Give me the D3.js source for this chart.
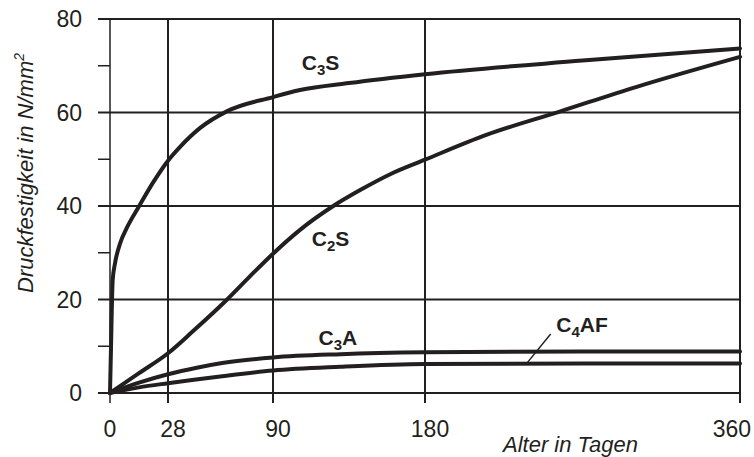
<!DOCTYPE html>
<html>
<head>
<meta charset="utf-8">
<script src="https://cdn.jsdelivr.net/npm/d3@7"></script>
<style>
    body { margin: 0; background: #fff; }
    svg { display: block; }
    text { font-family: "Liberation Sans", Arial, sans-serif; fill: #231f20; }
</style>
</head>
<body>
<div id="chart"></div>
<script>
// Tick-Positionen (Tage) und Festigkeitswerte
const xTicks = [0, 28, 90, 180, 360];
const yTicks = [0, 20, 40, 60, 80];
const yMinorTicks = [10, 30, 50, 70];

// Druckfestigkeit in N/mm² über Alter in Tagen
const c3s = [[0, 0], [0.5, 10], [1.0, 20.6], [1.3, 24.2], [2.4, 27.7], [4.8, 31.9], [8.1, 35.3], [14.1, 40],
    [20.9, 45.1], [28, 49.7], [35, 52.6], [47, 56.7], [63, 60.3], [90, 63.3], [106, 64.8], [135, 66.3],
    [180, 68.2], [270, 71.1], [360, 73.7]];
const c2s = [[0, 0], [14, 4.25], [28, 8.5], [43, 13.3], [62.6, 19.9], [76.5, 25.0], [90, 29.8], [106, 34.9],
    [125.7, 40.0], [141.6, 43.4], [160, 46.9], [180, 49.9], [215, 55.2], [257, 60.2], [301, 65.5], [360, 71.9]];
const c3a = [[0, 0], [14, 2.2], [28, 4.0], [45, 5.4], [60, 6.4], [90, 7.6], [130, 8.3], [180, 8.7],
    [270, 8.9], [360, 8.9]];
const c4af = [[0, 0], [14, 1.2], [28, 2.1], [60, 3.6], [90, 4.8], [130, 5.6], [180, 6.2], [270, 6.3],
    [360, 6.3]];

// Beschriftungen: [Haupttext, Index, Rest, Tag, Wert]
const labels = [
    ["C", "3", "S", 107, 69.1],
    ["C", "2", "S", 113, 31.4],
    ["C", "3", "A", 117, 10.3],
    ["C", "4", "AF", 255, 13.1]
];
// Hinweislinie C4AF: [Tag, Wert] -> [Tag, Wert]
const leader = [[251.8, 12.6], [238.7, 6.6]];

const width = 754, height = 457;
const margin = {left: 110, right: 740, top: 19, bottom: 393};

const svg = d3.select("#chart")
    .append("svg")
    .attr("width", width)
    .attr("height", height);

// die Tagesachse ist im Original nicht gleichmäßig geteilt
const xx = d3.scaleLinear()
    .domain(xTicks)
    .range([margin.left, 168, 273, 425, margin.right]);

const yy = d3.scaleLinear()
    .domain([0, 80])
    .range([margin.bottom, margin.top]);

const ink = "#231f20";

// horizontale Gitterlinien (inkl. Tick links)
svg.append("g")
    .selectAll("line")
    .data(yTicks)
    .join("line")
    .attr("x1", margin.left - 12)
    .attr("x2", margin.right)
    .attr("y1", d => yy(d))
    .attr("y2", d => yy(d))
    .attr("stroke", ink)
    .attr("stroke-width", 2);

// Zwischenticks
svg.append("g")
    .selectAll("line")
    .data(yMinorTicks)
    .join("line")
    .attr("x1", margin.left - 12)
    .attr("x2", margin.left)
    .attr("y1", d => yy(d))
    .attr("y2", d => yy(d))
    .attr("stroke", ink)
    .attr("stroke-width", 1.5);

// vertikale Gitterlinien
svg.append("g")
    .selectAll("line")
    .data(xTicks)
    .join("line")
    .attr("x1", d => xx(d))
    .attr("x2", d => xx(d))
    .attr("y1", yy(80))
    .attr("y2", margin.bottom + 10)
    .attr("stroke", ink)
    .attr("stroke-width", d => d === 0 ? 1.5 : 2);

// Tick-Beschriftung
svg.append("g")
    .selectAll("text")
    .data(yTicks)
    .join("text")
    .attr("x", margin.left - 28)
    .attr("y", d => yy(d))
    .attr("dy", "0.36em")
    .style("font-size", "23px")
    .style("text-anchor", "end")
    .text(d => d);

svg.append("g")
    .selectAll("text")
    .data(xTicks)
    .join("text")
    .attr("x", d => d === 360 ? xx(d) + 11 : xx(d) + (d === 0 ? 0 : 5))
    .attr("y", margin.bottom + 44)
    .style("font-size", "23px")
    .style("text-anchor", d => d === 360 ? "end" : "middle")
    .text(d => d);

// Kurven
const line = d3.line()
    .x(d => xx(d[0]))
    .y(d => yy(d[1]))
    .curve(d3.curveMonotoneX);

svg.append("g")
    .selectAll("path")
    .data([c3s, c2s, c3a, c4af])
    .join("path")
    .attr("fill", "none")
    .attr("stroke", ink)
    .attr("stroke-width", 4)
    .attr("stroke-linejoin", "round")
    .attr("stroke-linecap", "round")
    .attr("d", line);

// Hinweislinie
svg.append("line")
    .attr("x1", xx(leader[0][0]))
    .attr("y1", yy(leader[0][1]))
    .attr("x2", xx(leader[1][0]))
    .attr("y2", yy(leader[1][1]))
    .attr("stroke", ink)
    .attr("stroke-width", 1.5);

// Kurvenbeschriftungen
labels.forEach(function (l) {
    const t = svg.append("text")
        .attr("x", xx(l[3]))
        .attr("y", yy(l[4]))
        .style("font-size", "21px")
        .style("font-weight", "bold");
    t.append("tspan").text(l[0]);
    t.append("tspan").text(l[1]).style("font-size", "15px").attr("dy", 5);
    t.append("tspan").text(l[2]).attr("dy", -5);
});

// Achsentitel
svg.append("text")
    .attr("x", 503)
    .attr("y", 452)
    .style("font-size", "22px")
    .style("font-style", "italic")
    .text("Alter in Tagen");

const yt = svg.append("text")
    .attr("transform", "translate(33,293) rotate(-90)")
    .style("font-size", "22px")
    .style("font-style", "italic");
yt.append("tspan").text("Druckfestigkeit in N/mm");
yt.append("tspan").text("2").style("font-size", "14px").attr("dy", -9);

</script>
</body>
</html>
